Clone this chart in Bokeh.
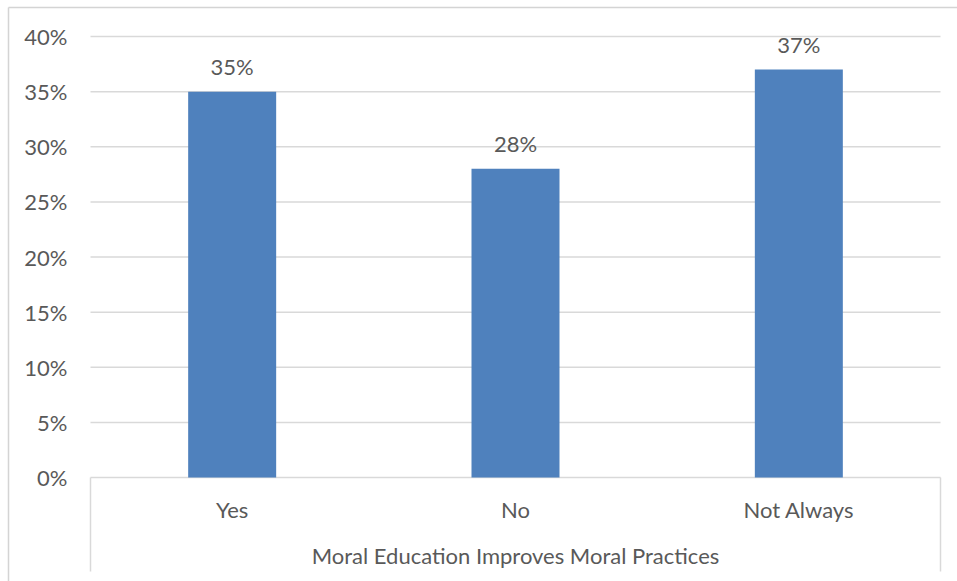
from bokeh.plotting import figure
from bokeh.models import Range1d, ColumnDataSource
from bokeh.core.properties import value
from bokeh.embed import file_html
from bokeh.resources import INLINE

# Survey results
categories = ["Yes", "No", "Not Always"]
shares = [0.35, 0.28, 0.37]
share_labels = ["35%", "28%", "37%"]
axis_title = "Moral Education Improves Moral Practices"

# Value axis
y_ticks = [0.00, 0.05, 0.10, 0.15, 0.20, 0.25, 0.30, 0.35, 0.40]
y_tick_labels = ["0%", "5%", "10%", "15%", "20%", "25%", "30%", "35%", "40%"]

# Page geometry (pixels)
W, H = 957, 581
PLOT_L, PLOT_R, PLOT_T, PLOT_B = 90, 940, 36, 477
BORDER_X, BORDER_Y = 8, 7
SEP_BOTTOM = 571

n = len(categories)
y_max = y_ticks[-1]
px_x = (PLOT_R - PLOT_L) / n          # pixels per category slot
px_y = (PLOT_B - PLOT_T) / y_max      # pixels per unit of share

def dx(px):
    return (px - PLOT_L) / px_x

def dy(py):
    return (PLOT_B - py) / px_y

FONT = value("Lato")
FONT_SIZE = "22px"
TEXT = "#595959"
GRID = "#d9d9d9"
BAR = "#4f81bd"

p = figure(width=W, height=H, output_backend="svg", toolbar_location=None,
           x_range=Range1d(dx(0), dx(W)), y_range=Range1d(dy(H), dy(0)),
           min_border=0, x_axis_type=None, y_axis_type=None)
p.grid.visible = False
p.outline_line_color = None
p.background_fill_color = "white"
p.border_fill_color = "white"

# Chart border (top and left edges)
p.segment(x0=[dx(BORDER_X), dx(BORDER_X)], y0=[dy(BORDER_Y), dy(BORDER_Y)],
          x1=[dx(W), dx(BORDER_X)], y1=[dy(BORDER_Y), dy(H)],
          line_color="#d4d4d4", line_width=1.5)

# Horizontal gridlines
p.segment(x0=[0] * len(y_ticks), y0=y_ticks, x1=[n] * len(y_ticks), y1=y_ticks,
          line_color=GRID, line_width=1.5)

# Category-axis box sides
p.segment(x0=[0, n], y0=[0, 0], x1=[0, n], y1=[dy(SEP_BOTTOM), dy(SEP_BOTTOM)],
          line_color=GRID, line_width=1.5)

xs = [i + 0.5 for i in range(n)]
src = ColumnDataSource(dict(x=xs, top=shares, label=share_labels, cat=categories))

p.vbar(x="x", top="top", bottom=0, width=88 / px_x, source=src,
       fill_color=BAR, line_color=None)

# Value labels above bars
p.text(x="x", y="top", text="label", source=src, y_offset=-25,
       text_align="center", text_baseline="middle",
       text_font=FONT, text_font_size=FONT_SIZE, text_color=TEXT)

# Category labels
p.text(x="x", y=0, text="cat", source=src, y_offset=32,
       text_align="center", text_baseline="middle",
       text_font=FONT, text_font_size=FONT_SIZE, text_color=TEXT)

# Axis title
p.text(x=[n / 2], y=[0], text=[axis_title], y_offset=78,
       text_align="center", text_baseline="middle",
       text_font=FONT, text_font_size=FONT_SIZE, text_color=TEXT)

# Value-axis tick labels
p.text(x=[0] * len(y_ticks), y=y_ticks, text=y_tick_labels, x_offset=-23,
       text_align="right", text_baseline="middle",
       text_font=FONT, text_font_size=FONT_SIZE, text_color=TEXT)

open("out.html", "w").write(file_html(p, INLINE))
